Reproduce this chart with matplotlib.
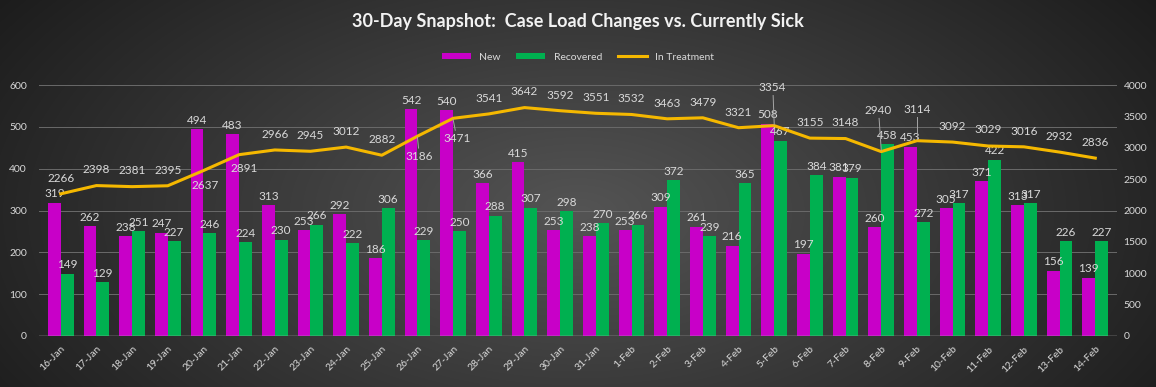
import numpy as np
import matplotlib
matplotlib.use("Agg")
import matplotlib.pyplot as plt

dates = ["16-Jan","17-Jan","18-Jan","19-Jan","20-Jan","21-Jan","22-Jan","23-Jan","24-Jan","25-Jan",
         "26-Jan","27-Jan","28-Jan","29-Jan","30-Jan","31-Jan","1-Feb","2-Feb","3-Feb","4-Feb",
         "5-Feb","6-Feb","7-Feb","8-Feb","9-Feb","10-Feb","11-Feb","12-Feb","13-Feb","14-Feb"]
new_cases = [319,262,238,247,494,483,313,253,292,186,542,540,366,415,253,238,253,309,261,216,
             508,197,381,260,453,305,371,313,156,139]
recovered = [149,129,251,227,246,224,230,266,222,306,229,250,288,307,298,270,266,372,239,365,
             467,384,379,458,272,317,422,317,226,227]
in_treatment = [2266,2398,2381,2395,2637,2891,2966,2945,3012,2882,3186,3471,3541,3642,3592,3551,3532,3463,3479,3321,
                3354,3155,3148,2940,3114,3092,3029,3016,2932,2836]

plt.rcParams['font.family'] = ['Lato', 'DejaVu Sans']

W, H = 1156, 387
fig = plt.figure(figsize=(W/100, H/100), dpi=100)

# background radial gradient
bg = fig.add_axes([0, 0, 1, 1], zorder=-10)
yy, xx = np.mgrid[0:H, 0:W]
r = np.sqrt(((xx - W*0.5)/(W*0.55))**2 + ((yy - H*0.55)/(H*0.9))**2)
val = np.clip(0.33 - 0.2*r, 0.11, 0.33)
img = np.dstack([val, val, val])
bg.imshow(img, aspect='auto', extent=[0, 1, 0, 1])
bg.axis('off')

ax = fig.add_axes([0.034, 0.132, 0.932, 0.648])
ax.set_facecolor('none')
ax2 = ax.twinx()

x = np.arange(len(dates))
bw = 0.36
magenta = '#C800C8'
green = '#00B050'
gold = '#F5B800'
txt = '#D9D9D9'

b1 = ax.bar(x - bw/2, new_cases, bw, color=magenta, label='New', zorder=3)
b2 = ax.bar(x + bw/2, recovered, bw, color=green, label='Recovered', zorder=3)
ax.set_ylim(0, 600)
ax.set_yticks(range(0, 601, 100))
ax.set_xlim(-0.6, len(dates) - 0.4)
ax.grid(axis='y', color='#6a6a6a', linewidth=0.7, zorder=0)
ax.set_axisbelow(True)
for s in ax.spines.values():
    s.set_visible(False)
for s in ax2.spines.values():
    s.set_visible(False)
ax.axhline(0, color='#BFBFBF', linewidth=1.0, zorder=4)

for xi, v in zip(x, new_cases):
    ax.text(xi - bw/2, v + 8, str(v), ha='center', va='bottom', color=txt, fontsize=8.5, zorder=6)
for xi, v in zip(x, recovered):
    ax.text(xi + bw/2, v + 8, str(v), ha='center', va='bottom', color=txt, fontsize=8.5, zorder=6)

ln, = ax2.plot(x, in_treatment, color=gold, linewidth=2.2, label='In Treatment', zorder=5)
ax2.set_ylim(0, 4000)
ax2.set_yticks(range(0, 4001, 500))

# label center offsets (x in categories, y in value units) for labels placed away from the line
special = {4: (0.05, -240), 5: (0.15, -220), 10: (0.05, -320), 11: (0.1, -320),
           20: (-0.05, 610), 23: (-0.1, 660), 24: (0.0, 500), 26: (0.0, 270), 27: (0.0, 250),
           9: (0.0, 250), 25: (0.0, 250)}
for i, v in enumerate(in_treatment):
    if i in special:
        dx, dy = special[i]
        ax2.text(i + dx, v + dy, str(v), ha='center', va='center', color=txt, fontsize=8.5, zorder=6)
        if abs(dy) > 300:
            sgn = 1 if dy > 0 else -1
            ax2.plot([i + dx*0.6, i], [v + dy - sgn*130, v + sgn*20], color='#A6A6A6',
                     linewidth=0.7, zorder=6)
    else:
        ax2.text(i, v + 250, str(v), ha='center', va='center', color=txt, fontsize=8.5, zorder=6)

ax.set_xticks(x)
ax.set_xticklabels(dates, rotation=45, ha='right', rotation_mode='anchor', color=txt, fontsize=7.5)
ax.tick_params(axis='x', length=0, pad=6)
ax.tick_params(axis='y', length=0, colors=txt, labelsize=7.5, pad=9)
ax2.tick_params(axis='y', length=0, colors=txt, labelsize=7.5, pad=5)

fig.text(0.5, 0.945, '30-Day Snapshot:  Case Load Changes vs. Currently Sick', ha='center', va='center',
         color='#F2F2F2', fontsize=13, fontweight='bold')

leg = fig.legend(handles=[b1, b2, ln], labels=['New', 'Recovered', 'In Treatment'], loc='center',
                 bbox_to_anchor=(0.5, 0.852), ncol=3, frameon=False, fontsize=7.5,
                 labelcolor=txt, handlelength=2.8, handleheight=0.5, columnspacing=1.5)

fig.savefig('out.png', dpi=100)
